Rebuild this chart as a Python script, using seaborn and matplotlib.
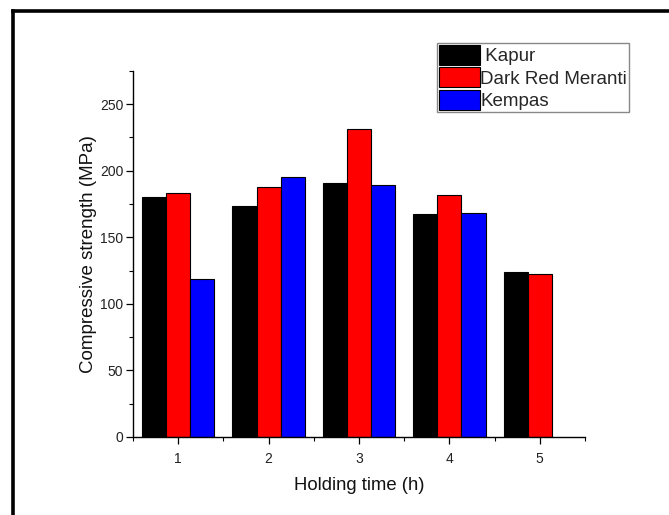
import numpy as np
import pandas as pd
import matplotlib
matplotlib.use("Agg")
import matplotlib.pyplot as plt
from matplotlib.lines import Line2D
from matplotlib.ticker import MultipleLocator, FixedLocator
import seaborn as sns

# ---- data ----
holding_time = ["1", "2", "3", "4", "5"]
species = ["Kapur", "Dark Red Meranti", "Kempas"]
kapur = [180.5, 173.5, 190.5, 167.5, 123.5]
dark_red_meranti = [183.0, 187.5, 231.5, 181.5, 122.0]
kempas = [118.5, 195.5, 189.5, 168.0, np.nan]
colors = ["#000000", "#FF0000", "#0000FF"]

df = pd.DataFrame({
    "time": holding_time * 3,
    "species": [species[0]] * 5 + [species[1]] * 5 + [species[2]] * 5,
    "value": kapur + dark_red_meranti + kempas,
})

sns.set_theme(style="white")
plt.rcParams["font.family"] = ["Liberation Sans", "DejaVu Sans"]

fig = plt.figure(figsize=(6.69, 5.15), dpi=100)
ax = fig.add_axes([133 / 669, 1 - 437 / 515, (585 - 133) / 669, (437 - 70.7) / 515])

sns.barplot(data=df, x="time", y="value", hue="species", order=holding_time,
            hue_order=species, palette=colors, width=0.8, edgecolor="black",
            linewidth=0.8, saturation=1, errorbar=None, ax=ax)

ax.set_xlim(-0.5, 4.5)
ax.set_ylim(0, 275)
ax.yaxis.set_major_locator(MultipleLocator(50))
ax.yaxis.set_minor_locator(MultipleLocator(25))
ax.xaxis.set_minor_locator(FixedLocator(np.arange(-0.5, 5.0, 1.0)))

for s in ["top", "right"]:
    ax.spines[s].set_visible(False)
for s in ["left", "bottom"]:
    ax.spines[s].set_color("black")
    ax.spines[s].set_linewidth(1.0)

ax.tick_params(axis="both", which="major", direction="out", length=5, width=0.9,
               color="black", labelsize=10, labelcolor="#222222", left=True, bottom=True)
ax.tick_params(axis="both", which="minor", direction="out", length=3, width=0.8,
               color="black", left=True, bottom=True)
ax.tick_params(axis="x", pad=6)
ax.tick_params(axis="y", pad=2)

ax.set_xlabel("Holding time (h)", fontsize=13.3, color="#111111", labelpad=8)
ax.set_ylabel("Compressive strength (MPa)", fontsize=13.5, color="#111111", labelpad=2)

handles, labels = ax.get_legend_handles_labels()
labels = [" " + labels[0]] + labels[1:]
leg = ax.legend(handles, labels, loc="upper left", bbox_to_anchor=(437 / 669, 1 - 43 / 515),
                bbox_transform=fig.transFigure, fontsize=13.5, frameon=True, fancybox=False,
                framealpha=1, edgecolor="#888888", handlelength=2.2, handleheight=1.25,
                handletextpad=0.02, borderpad=0.1, labelspacing=0.12, borderaxespad=0)
leg.get_frame().set_linewidth(1.0)

# outer frame (top and left edges)
fig.add_artist(Line2D([12.5 / 669, 1.0], [1 - 10.5 / 515, 1 - 10.5 / 515],
                      transform=fig.transFigure, color="black", linewidth=2.6,
                      solid_capstyle="projecting"))
fig.add_artist(Line2D([12.5 / 669, 12.5 / 669], [0.0, 1 - 10.5 / 515],
                      transform=fig.transFigure, color="black", linewidth=2.6,
                      solid_capstyle="projecting"))

fig.savefig("out.png", dpi=100)
